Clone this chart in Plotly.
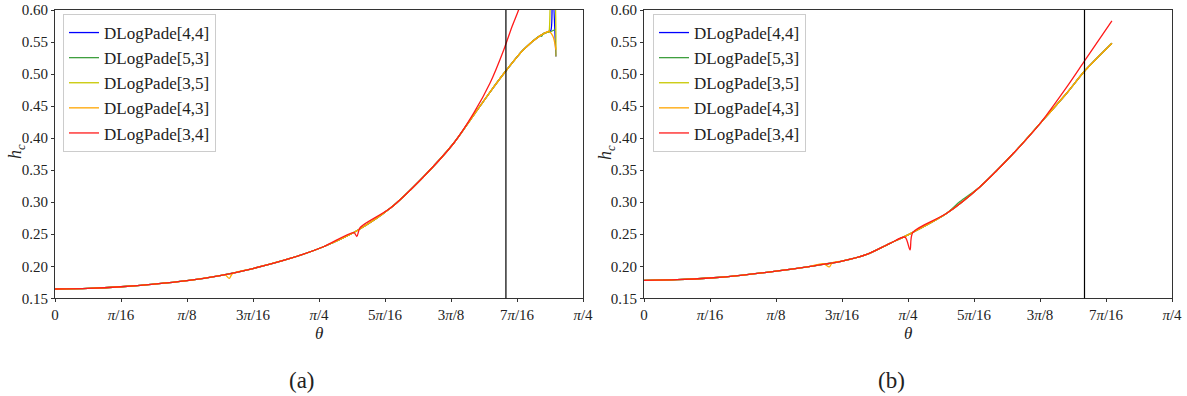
import plotly.graph_objects as go

# ---------------- data (theta in radians, h_c values) ----------------
# Panel (a): common curve
theta_a = [0.0, 0.0982, 0.1963, 0.2945, 0.3927, 0.4909, 0.5890, 0.6995, 0.7988,
           0.8980, 0.9971, 1.0964, 1.1860, 1.2456, 1.2943, 1.3399, 1.3933, 1.4436, 1.4687]
hc_a = [0.1645, 0.1655, 0.168, 0.172, 0.1775, 0.1855, 0.1965, 0.2122, 0.2305,
        0.2555, 0.2905, 0.3398, 0.392, 0.436, 0.472, 0.504, 0.538, 0.560, 0.5666]

# Panel (a): series-specific parts
a44_tail_t = [1.4750, 1.4789, 1.4902]
a44_tail_h = [0.568, 0.65, 0.5275]
a53_tail_t = [1.4480, 1.4530, 1.4718, 1.4902]
a53_tail_h = [0.5590, 0.5635, 0.5660, 0.570]
a35_tail_t = [1.4703, 1.4782, 1.4831, 1.4902]
a35_tail_h = [0.568, 0.64, 0.64, 0.5275]
a43_glitch_t = [0.5058, 0.5184, 0.5278]
a43_glitch_h = [0.1868, 0.181, 0.1885]
a43_tail_t = [1.4813, 1.4902]
a43_tail_h = [0.559, 0.538]
a34_glitch_t = [0.8891, 0.8980, 0.9079]
a34_glitch_h = [0.2525, 0.2465, 0.2605]
a34_tail_t = [1.2456, 1.2943, 1.3352, 1.3595, 1.3791, 1.3933]
a34_tail_h = [0.439, 0.486, 0.538, 0.574, 0.600, 0.625]
vline_a = 1.3415

# Panel (b): common curve
theta_b = [0.0, 0.0982, 0.1963, 0.2945, 0.3927, 0.4909, 0.5890, 0.6627, 0.7320,
           0.7854, 0.9007, 0.9998, 1.0991, 1.1786, 1.2580, 1.3096, 1.3920]
hc_b = [0.178, 0.1790, 0.1817, 0.1862, 0.1923, 0.1995, 0.2080, 0.2185, 0.2358,
        0.2490, 0.2827, 0.3242, 0.3763, 0.4231, 0.4705, 0.504, 0.548]

b53_glitch_t = [0.9401]
b53_glitch_h = [0.3010]
b43_glitch_t = [0.5333, 0.5512, 0.5600]
b43_glitch_h = [0.2040, 0.1990, 0.2055]
b34_glitch_t = [0.7764, 0.7914, 0.7994]
b34_glitch_h = [0.2455, 0.2255, 0.2525]
b34_tail_t = [1.2580, 1.3096, 1.3920]
b34_tail_h = [0.480, 0.5197, 0.583]
vline_b = 1.3105

series_names = ["DLogPade[4,4]", "DLogPade[5,3]", "DLogPade[3,5]", "DLogPade[4,3]", "DLogPade[3,4]"]
series_colors = ["#0000ff", "#3f9f3f", "#c8c800", "#ffa500", "#ff1a1a"]

x_tick_vals = [0, 0.19635, 0.3927, 0.58905, 0.7854, 0.98175, 1.1781, 1.37445, 1.5708]
x_tick_text = ["0", "<i>π</i>/16", "<i>π</i>/8", "3<i>π</i>/16", "<i>π</i>/4",
               "5<i>π</i>/16", "3<i>π</i>/8", "7<i>π</i>/16", "<i>π</i>/4"]
y_tick_vals = [0.15, 0.20, 0.25, 0.30, 0.35, 0.40, 0.45, 0.50, 0.55, 0.60]


def merge(bt, bh, cut=None, gt=(), gh=(), tt=(), th=(), tol=0.012):
    pts = [(t, h) for t, h in zip(bt, bh)
           if (cut is None or t <= cut + 1e-9) and all(abs(t - g) > tol for g in gt)]
    pts += list(zip(gt, gh)) + list(zip(tt, th))
    pts.sort()
    return [p[0] for p in pts], [p[1] for p in pts]


panel_a = [
    merge(theta_a, hc_a, tt=a44_tail_t, th=a44_tail_h),
    merge(theta_a, hc_a, cut=1.4436, tt=a53_tail_t, th=a53_tail_h),
    merge(theta_a, hc_a, tt=a35_tail_t, th=a35_tail_h),
    merge(theta_a, hc_a, gt=a43_glitch_t, gh=a43_glitch_h, tt=a43_tail_t, th=a43_tail_h),
    merge(theta_a, hc_a, cut=1.1860, gt=a34_glitch_t, gh=a34_glitch_h, tt=a34_tail_t, th=a34_tail_h),
]
panel_b = [
    merge(theta_b, hc_b),
    merge(theta_b, hc_b, gt=b53_glitch_t, gh=b53_glitch_h),
    merge(theta_b, hc_b),
    merge(theta_b, hc_b, gt=b43_glitch_t, gh=b43_glitch_h),
    merge(theta_b, hc_b, cut=1.1786, gt=b34_glitch_t, gh=b34_glitch_h, tt=b34_tail_t, th=b34_tail_h),
]

FONT = "Liberation Serif"
fig = go.Figure()

for i, (name, col) in enumerate(zip(series_names, series_colors)):
    xa, ya = panel_a[i]
    fig.add_trace(go.Scatter(x=xa, y=ya, mode="lines", name=name, xaxis="x", yaxis="y",
                             line=dict(color=col, width=1.3, shape="spline", smoothing=0.8),
                             legend="legend", legendgroup=f"a{i}"))
for i, (name, col) in enumerate(zip(series_names, series_colors)):
    xb, yb = panel_b[i]
    fig.add_trace(go.Scatter(x=xb, y=yb, mode="lines", name=name, xaxis="x2", yaxis="y2",
                             line=dict(color=col, width=1.3, shape="spline", smoothing=0.8),
                             legend="legend2", legendgroup=f"b{i}"))

fig.add_shape(type="line", x0=vline_a, x1=vline_a, y0=0, y1=1, xref="x", yref="y domain",
              line=dict(color="black", width=1.2))
fig.add_shape(type="line", x0=vline_b, x1=vline_b, y0=0, y1=1, xref="x2", yref="y2 domain",
              line=dict(color="black", width=1.2))

axis_common = dict(showline=True, mirror=True, linecolor="#333", linewidth=1,
                   ticks="outside", ticklen=3, tickwidth=1, tickcolor="#333",
                   showgrid=False, zeroline=False, automargin=False,
                   tickfont=dict(family=FONT, size=15, color="#222"))

xa_dom = [55 / 1187, 583 / 1187]
xb_dom = [644 / 1187, 1172 / 1187]
y_dom = [1 - 298.3 / 396, 1 - 10 / 396]

legend_common = dict(xanchor="left", yanchor="top", bgcolor="rgba(255,255,255,0.85)",
                     bordercolor="#cccccc", borderwidth=1,
                     font=dict(family=FONT, size=17, color="#222"), tracegroupgap=0)

fig.update_layout(
    width=1187, height=396,
    margin=dict(l=0, r=0, t=0, b=0, pad=0, autoexpand=False),
    paper_bgcolor="white", plot_bgcolor="white",
    xaxis=dict(domain=xa_dom, range=[0, 1.5708], anchor="y", tickvals=x_tick_vals,
               ticktext=x_tick_text, **axis_common),
    yaxis=dict(domain=y_dom, range=[0.15, 0.60], anchor="x", tickvals=y_tick_vals,
               tickformat=".2f", **axis_common),
    xaxis2=dict(domain=xb_dom, range=[0, 1.5708], anchor="y2", tickvals=x_tick_vals,
                ticktext=x_tick_text, **axis_common),
    yaxis2=dict(domain=y_dom, range=[0.15, 0.60], anchor="x2", tickvals=y_tick_vals,
                tickformat=".2f", **axis_common),
    legend=dict(x=63 / 1187, y=1 - 14 / 396, **legend_common),
    legend2=dict(x=653 / 1187, y=1 - 14 / 396, **legend_common),
    showlegend=True,
)

ann = []
for cx in [(xa_dom[0] + xa_dom[1]) / 2, (xb_dom[0] + xb_dom[1]) / 2]:
    ann.append(dict(text="<i>θ</i>", x=cx, y=1 - 333 / 396, xref="paper", yref="paper",
                    xanchor="center", yanchor="middle", showarrow=False,
                    font=dict(family=FONT, size=17, color="#222")))
for hx in [16 / 1187, 606 / 1187]:
    ann.append(dict(text="<i>h</i><sub><i>c</i></sub>", x=hx, y=1 - 152 / 396, xref="paper",
                    yref="paper", xanchor="center", yanchor="middle", showarrow=False,
                    textangle=-90, font=dict(family=FONT, size=18, color="#222")))
for lab, lx in [("(a)", 302 / 1187), ("(b)", 891 / 1187)]:
    ann.append(dict(text=lab, x=lx, y=1 - 380 / 396, xref="paper", yref="paper",
                    xanchor="center", yanchor="middle", showarrow=False,
                    font=dict(family=FONT, size=23, color="#222")))
fig.update_layout(annotations=ann)

fig.write_html("out.html")
